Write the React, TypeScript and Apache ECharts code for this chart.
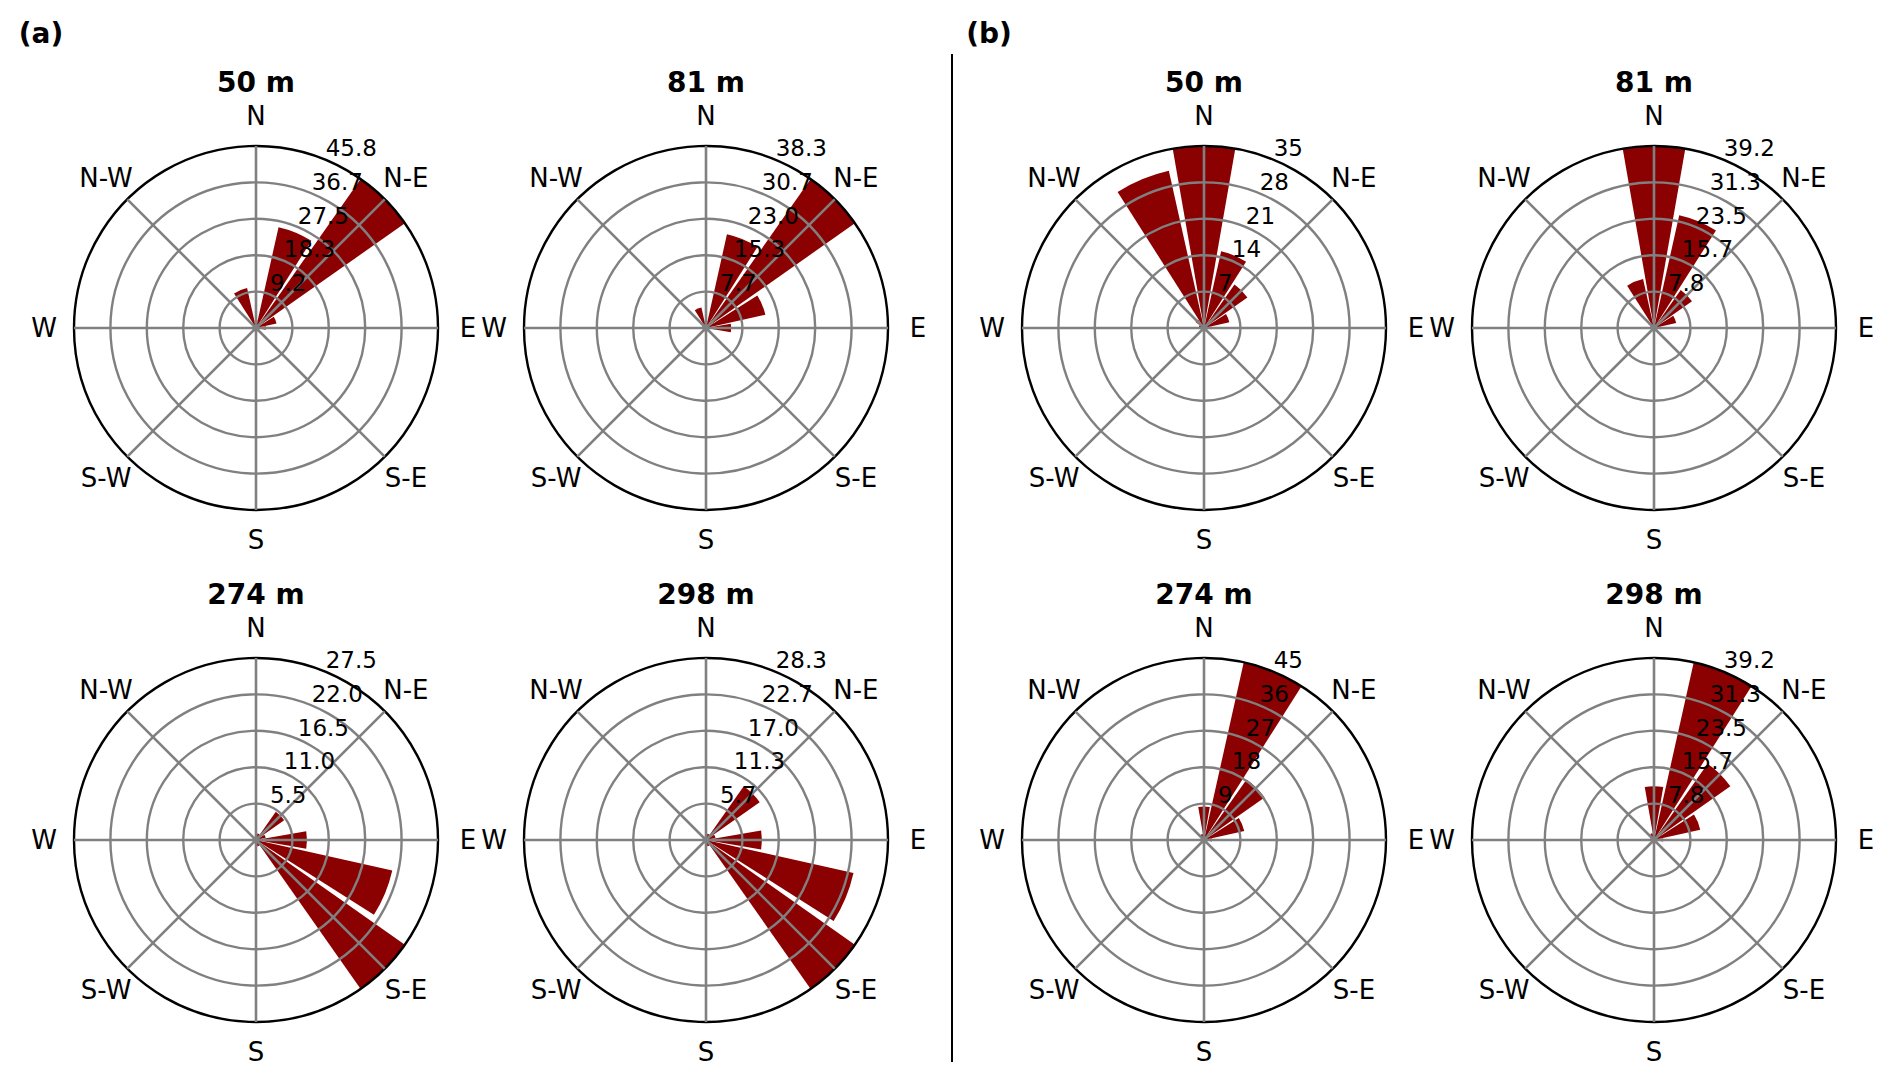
import React, { useEffect, useRef } from 'react';
import * as echarts from 'echarts';

// 16 wind-direction bins, clockwise from North
const directions16 = ['N', 'NNE', 'NE', 'ENE', 'E', 'ESE', 'SE', 'SSE', 'S', 'SSW', 'SW', 'WSW', 'W', 'WNW', 'NW', 'NNW'];
// compass labels around each rose (every 45 degrees)
const compassLabels = ['N', 'N-E', 'E', 'S-E', 'S', 'S-W', 'W', 'N-W'];

// frequencies (%) per direction bin
const a50 = [2.0, 26.0, 45.8, 5.3, 2.5, 0.5, 0.3, 0.2, 0.2, 0.2, 0.2, 0.3, 0.5, 0.8, 1.5, 10.3];
const a81 = [1.5, 20.2, 38.3, 12.8, 5.3, 0.5, 0.3, 0.2, 0.2, 0.2, 0.2, 0.3, 0.5, 0.8, 1.5, 4.4];
const a274 = [0.8, 1.0, 5.2, 1.5, 7.7, 21.1, 27.5, 1.0, 0.3, 0.2, 0.2, 0.2, 0.2, 0.2, 0.3, 0.5];
const a298 = [0.8, 1.0, 10.2, 1.5, 8.7, 23.5, 28.3, 1.0, 0.3, 0.2, 0.2, 0.2, 0.2, 0.2, 0.3, 0.5];
const b50 = [35.0, 15.1, 10.2, 5.0, 1.5, 0.5, 0.3, 0.2, 0.2, 0.2, 0.2, 0.3, 0.5, 1.0, 2.0, 31.0];
const b81 = [39.2, 24.9, 10.0, 4.9, 1.5, 0.5, 0.3, 0.2, 0.2, 0.2, 0.2, 0.3, 0.5, 0.8, 1.5, 10.8];
const b274 = [8.3, 45.0, 18.3, 10.2, 2.0, 0.5, 0.3, 0.2, 0.2, 0.2, 0.2, 0.3, 0.5, 0.8, 1.0, 1.5];
const b298 = [11.6, 39.2, 20.1, 10.2, 2.0, 0.5, 0.3, 0.2, 0.2, 0.2, 0.2, 0.3, 0.5, 0.8, 1.0, 1.5];

// radial tick labels (5 rings; last one = outer circle)
const ticksA50 = ['9.2', '18.3', '27.5', '36.7', '45.8'];
const ticksA81 = ['7.7', '15.3', '23.0', '30.7', '38.3'];
const ticksA274 = ['5.5', '11.0', '16.5', '22.0', '27.5'];
const ticksA298 = ['5.7', '11.3', '17.0', '22.7', '28.3'];
const ticksB50 = ['7', '14', '21', '28', '35'];
const ticksB81 = ['7.8', '15.7', '23.5', '31.3', '39.2'];
const ticksB274 = ['9', '18', '27', '36', '45'];
const ticksB298 = ['7.8', '15.7', '23.5', '31.3', '39.2'];

const maxA = [45.8, 38.3, 27.5, 28.3];
const maxB = [35, 39.2, 45, 39.2];

const panelLabels = ['(a)', '(b)'];
const heightTitles = ['50 m', '81 m', '274 m', '298 m'];

// layout
const COL_X = [256, 706, 1204, 1654];
const ROW_Y = [328, 840];
const TITLE_Y = [82, 594];
const R = 182;
const FONT = 'DejaVu Sans';

const charts = [
  { title: heightTitles[0], values: a50, ticks: ticksA50, max: maxA[0], col: 0, row: 0 },
  { title: heightTitles[1], values: a81, ticks: ticksA81, max: maxA[1], col: 1, row: 0 },
  { title: heightTitles[2], values: a274, ticks: ticksA274, max: maxA[2], col: 0, row: 1 },
  { title: heightTitles[3], values: a298, ticks: ticksA298, max: maxA[3], col: 1, row: 1 },
  { title: heightTitles[0], values: b50, ticks: ticksB50, max: maxB[0], col: 2, row: 0 },
  { title: heightTitles[1], values: b81, ticks: ticksB81, max: maxB[1], col: 3, row: 0 },
  { title: heightTitles[2], values: b274, ticks: ticksB274, max: maxB[2], col: 2, row: 1 },
  { title: heightTitles[3], values: b298, ticks: ticksB298, max: maxB[3], col: 3, row: 1 },
];

function buildOption() {
  const polar: any[] = [];
  const angleAxis: any[] = [];
  const radiusAxis: any[] = [];
  const series: any[] = [];
  const graphic: any[] = [];

  charts.forEach((c, i) => {
    const cx = COL_X[c.col];
    const cy = ROW_Y[c.row];
    const barIdx = 2 * i;
    const gridIdx = 2 * i + 1;

    polar.push({ center: [cx, cy], radius: R });
    polar.push({ center: [cx, cy], radius: R });

    // bar polar (category angle axis centred on each direction)
    angleAxis.push({
      polarIndex: barIdx,
      type: 'category',
      data: directions16,
      startAngle: 90 + 360 / 32,
      clockwise: true,
      axisLine: { show: false },
      axisTick: { show: false },
      axisLabel: { show: false },
      splitLine: { show: false },
    });
    radiusAxis.push({
      polarIndex: barIdx,
      type: 'value',
      min: 0,
      max: c.max,
      axisLine: { show: false },
      axisTick: { show: false },
      axisLabel: { show: false },
      splitLine: { show: false },
    });

    // grid polar (drawn above bars)
    angleAxis.push({
      polarIndex: gridIdx,
      type: 'value',
      min: 0,
      max: 360,
      interval: 45,
      startAngle: 90,
      clockwise: true,
      z: 5,
      axisLine: { show: false },
      axisTick: { show: false },
      axisLabel: { show: false },
      splitLine: { show: true, lineStyle: { color: '#808080', width: 2.6 } },
    });
    radiusAxis.push({
      polarIndex: gridIdx,
      type: 'value',
      min: 0,
      max: 5,
      interval: 1,
      z: 5,
      axisLine: { show: false },
      axisTick: { show: false },
      axisLabel: { show: false },
      splitLine: {
        show: true,
        lineStyle: { color: ['#808080', '#808080', '#808080', '#808080', '#808080', '#000000'], width: 2.4 },
      },
    });

    series.push({
      type: 'bar',
      coordinateSystem: 'polar',
      polarIndex: barIdx,
      data: c.values,
      barCategoryGap: '12%',
      itemStyle: { color: '#8b0000' },
      z: 2,
    });

    // title
    graphic.push({
      type: 'text',
      x: cx,
      y: TITLE_Y[c.row],
      z: 10,
      style: { text: c.title, font: `bold 28px "${FONT}"`, fill: '#000', align: 'center', verticalAlign: 'middle' },
    });

    // compass labels
    compassLabels.forEach((lab, k) => {
      const th = (k * 45 * Math.PI) / 180;
      graphic.push({
        type: 'text',
        x: cx + 212 * Math.sin(th),
        y: cy - 212 * Math.cos(th),
        z: 10,
        style: { text: lab, font: `26px "${FONT}"`, fill: '#000', align: 'center', verticalAlign: 'middle' },
      });
    });

    // radial tick labels at 22.5 degrees
    const th = (22.5 * Math.PI) / 180;
    c.ticks.forEach((t, k) => {
      const rr = ((k + 1) / c.ticks.length) * R;
      graphic.push({
        type: 'text',
        x: cx + rr * Math.sin(th),
        y: cy - rr * Math.cos(th),
        z: 10,
        style: { text: t, font: `23px "${FONT}"`, fill: '#000', align: 'left', verticalAlign: 'bottom' },
      });
    });
  });

  graphic.push({
    type: 'text', x: 41, y: 33, z: 10,
    style: { text: panelLabels[0], font: `bold 28px "${FONT}"`, fill: '#000', align: 'center', verticalAlign: 'middle' },
  });
  graphic.push({
    type: 'text', x: 989, y: 33, z: 10,
    style: { text: panelLabels[1], font: `bold 28px "${FONT}"`, fill: '#000', align: 'center', verticalAlign: 'middle' },
  });
  graphic.push({
    type: 'line', z: 10,
    shape: { x1: 952, y1: 54, x2: 952, y2: 1062 },
    style: { stroke: '#000', lineWidth: 2 },
  });

  return {
    animation: false,
    backgroundColor: '#ffffff',
    textStyle: { fontFamily: FONT },
    polar,
    angleAxis,
    radiusAxis,
    series,
    graphic,
  };
}

export default function App() {
  const ref = useRef<HTMLDivElement | null>(null);
  useEffect(() => {
    if (!ref.current) return;
    const chart = echarts.init(ref.current, undefined, { renderer: 'svg' });
    chart.setOption(buildOption() as any);
    return () => chart.dispose();
  }, []);
  return (
    <div
      ref={ref}
      style={{ position: 'absolute', left: 0, top: 0, width: 1892, height: 1084, background: '#fff' }}
    />
  );
}
